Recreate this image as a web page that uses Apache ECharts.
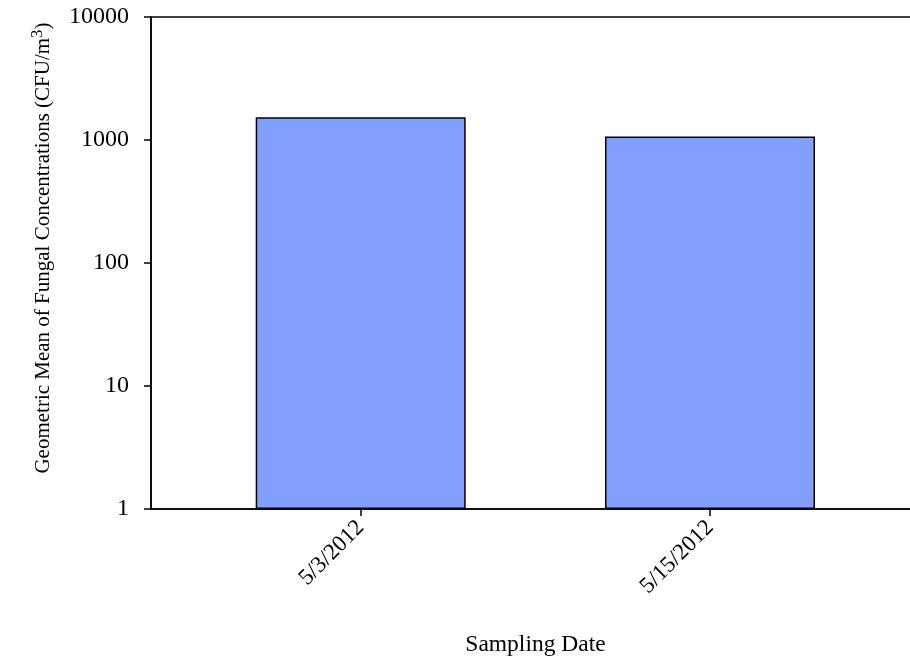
<!DOCTYPE html>
<html>
<head>
<meta charset="utf-8">
<script src="https://cdn.jsdelivr.net/npm/echarts@6/dist/echarts.min.js"></script>
<style>
  html, body { margin: 0; padding: 0; background: #fff; }
  #chart { width: 910px; height: 662px; }
</style>
</head>
<body>
<div id="chart"></div>
<script>
// Sampling dates and geometric mean fungal concentrations (CFU/m^3)
var samplingDates = ['5/3/2012', '5/15/2012'];
var geoMeanCFU = [1530, 1070];
var yMin = 1;
var yMax = 10000;

var serif = 'Liberation Serif';
var black = '#000';

var chart = echarts.init(document.getElementById('chart'), null, { renderer: 'canvas' });

chart.setOption({
  animation: false,
  backgroundColor: '#fff',
  grid: [
    // outer frame: left axis, bottom axis and top border (right edge runs past the page)
    { left: 151, top: 17, width: 769, height: 492, show: true, borderColor: black, borderWidth: 1.5,
      backgroundColor: 'transparent', containLabel: false, outerBoundsMode: 'none' },
    // inner band where the two date categories sit
    { left: 186.05, top: 17, width: 698.6, height: 492, containLabel: false, outerBoundsMode: 'none' }
  ],
  xAxis: [
    {
      gridIndex: 0,
      type: 'category',
      data: [''],
      axisLine: { show: true, lineStyle: { color: black, width: 1.5 } },
      axisTick: { show: false },
      axisLabel: { show: false },
      splitLine: { show: false },
      name: 'Sampling Date',
      nameLocation: 'middle',
      nameGap: 124,
      nameTextStyle: { fontFamily: serif, fontSize: 23.5, color: black }
    },
    {
      gridIndex: 1,
      type: 'category',
      data: samplingDates,
      axisLine: { show: false },
      axisTick: { show: true, alignWithLabel: true, length: 7, lineStyle: { color: black, width: 1.5 } },
      axisLabel: { rotate: 45, margin: 15, fontFamily: serif, fontSize: 23, color: black },
      splitLine: { show: false }
    }
  ],
  yAxis: [
    {
      gridIndex: 0,
      type: 'log',
      logBase: 10,
      min: yMin,
      max: yMax,
      axisLine: { show: true, lineStyle: { color: black, width: 1.5 } },
      axisTick: { show: true, inside: false, length: 7, lineStyle: { color: black, width: 1.5 } },
      minorTick: { show: false },
      splitLine: { show: false },
      axisLabel: {
        margin: 22,
        fontFamily: serif,
        fontSize: 24,
        color: black,
        formatter: function (v) { return String(Math.round(v)); }
      },
      name: 'Geometric Mean of Fungal Concentrations (CFU/m{sup|3})',
      nameLocation: 'middle',
      nameGap: 93,
      nameTextStyle: {
        fontFamily: serif,
        fontSize: 21,
        color: black,
        padding: [0, 0, 0, 30],
        rich: {
          sup: { fontFamily: serif, fontSize: 17, color: black, verticalAlign: 'bottom', padding: [0, 0, 12, 0] }
        }
      }
    },
    {
      gridIndex: 1,
      type: 'log',
      logBase: 10,
      min: yMin,
      max: yMax,
      show: false
    }
  ],
  series: [
    {
      type: 'bar',
      xAxisIndex: 1,
      yAxisIndex: 1,
      data: geoMeanCFU,
      barWidth: 210,
      itemStyle: { color: '#809fff', borderColor: black, borderWidth: 1.5 }
    }
  ]
});
</script>
</body>
</html>
